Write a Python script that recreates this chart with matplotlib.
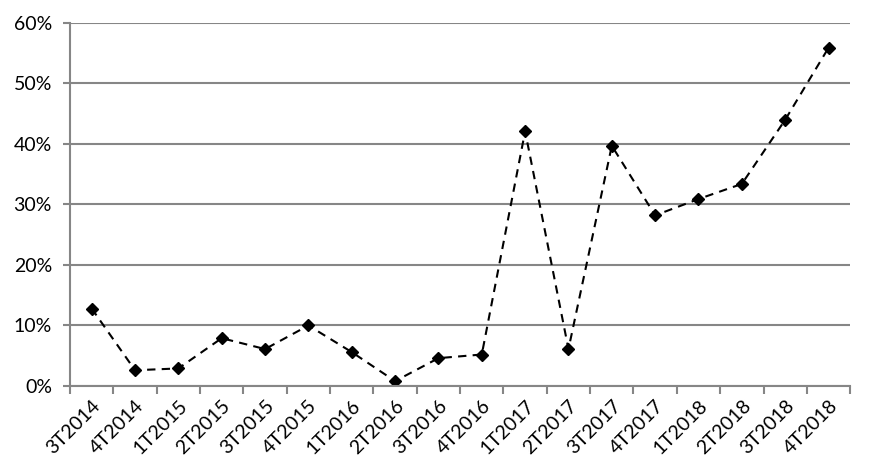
import matplotlib
matplotlib.use("Agg")
import matplotlib.pyplot as plt
from matplotlib.ticker import FixedLocator, PercentFormatter

categories = ["3T2014", "4T2014", "1T2015", "2T2015", "3T2015", "4T2015",
              "1T2016", "2T2016", "3T2016", "4T2016", "1T2017", "2T2017",
              "3T2017", "4T2017", "1T2018", "2T2018", "3T2018", "4T2018"]
values = [12.8, 2.6, 2.9, 7.9, 6.1, 10.0, 5.6, 0.8, 4.6, 5.2, 42.1, 6.1,
          39.7, 28.2, 30.9, 33.4, 44.0, 55.9]
yticks = [0, 10, 20, 30, 40, 50, 60]

plt.rcParams['font.family'] = ['Lato', 'DejaVu Sans']
grey = '#868686'

fig = plt.figure(figsize=(8.72, 4.74), dpi=100)
ax = fig.add_axes([0.0803, 0.1857, 0.8947, 0.7658])

x = list(range(len(categories)))
ax.plot(x, values, linestyle=(0, (4, 3)), color='black', linewidth=1.5,
        marker='D', markersize=6, markerfacecolor='black', markeredgecolor='black')

ax.set_xlim(-0.5, len(categories) - 0.5)
ax.set_ylim(0, 60)

ax.yaxis.set_major_locator(FixedLocator(yticks))
ax.yaxis.set_major_formatter(PercentFormatter(decimals=0))
ax.grid(axis='y', color=grey, linewidth=1.5)
ax.set_axisbelow(True)

ax.set_xticks(x)
ax.set_xticklabels(categories, rotation=45, ha='right', va='top', rotation_mode='anchor')
ax.set_xticks([i - 0.5 for i in range(len(categories) + 1)], minor=True)
ax.tick_params(axis='x', which='major', length=0, pad=8, labelsize=14)
ax.tick_params(axis='x', which='minor', length=6, width=1.5, color=grey, direction='out')
ax.tick_params(axis='y', length=5, width=1.5, color=grey, labelsize=14, pad=8)

for s in ['top', 'right']:
    ax.spines[s].set_visible(False)
for s in ['left', 'bottom']:
    ax.spines[s].set_color(grey)
    ax.spines[s].set_linewidth(1.5)

fig.savefig("out.png", dpi=100)
